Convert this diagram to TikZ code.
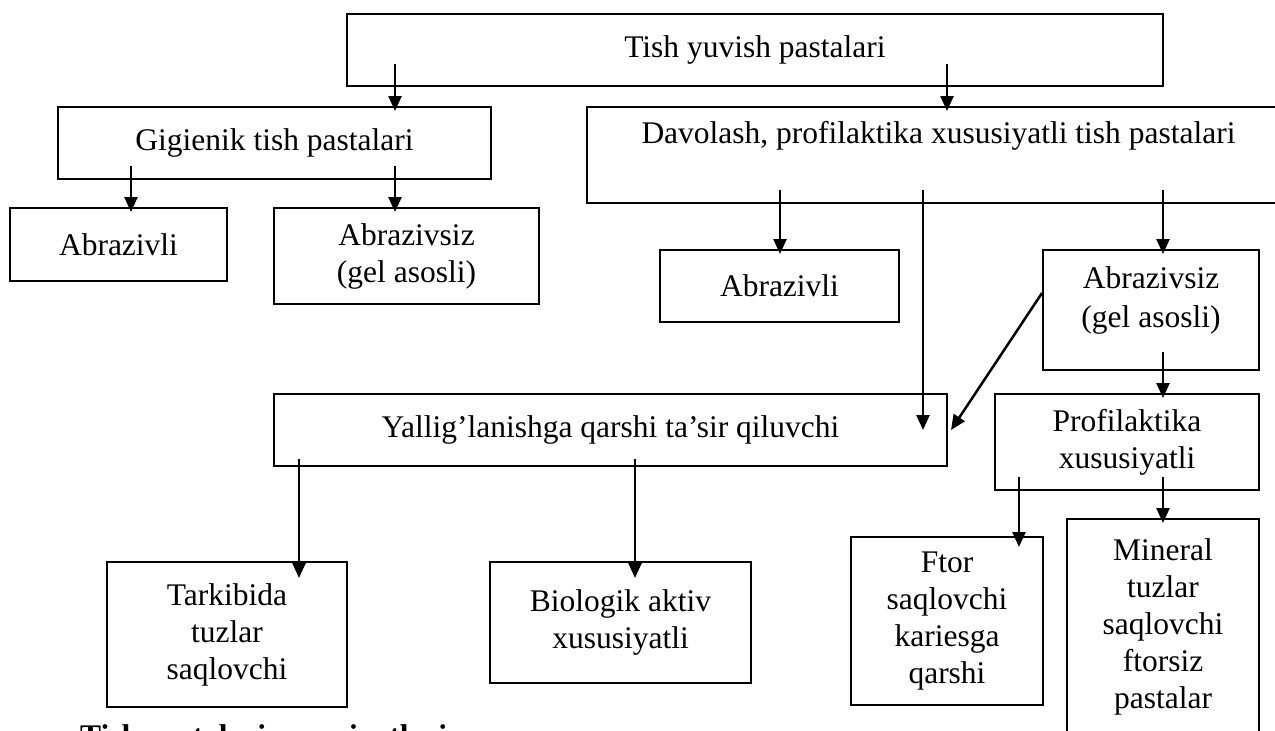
\documentclass[tikz,border=0pt]{standalone}
\usepackage{fontspec}
\setmainfont{Liberation Serif}
\usetikzlibrary{arrows.meta, positioning, calc}
\tikzset{
	box/.style={draw, line width=2pt, align=center, inner sep=0pt, font=\fontsize{31.5}{37}\selectfont},
	txt/.style={align=center, inner sep=0pt, font=\fontsize{31.5}{39}\selectfont},
	arr/.style={line width=2.5pt, -{Triangle[length=15pt,width=13pt]}, shorten >=-5pt}
}

\begin{document}
\begin{tikzpicture}[x=1pt, y=-1pt]
	\useasboundingbox (0,0) rectangle (1275,731);
	\clip (0,0) rectangle (1275,731);
	\node[box, minimum width=816pt, minimum height=72pt] (tish) at (755,50) {Tish yuvish pastalari};
	\node[box, minimum width=433pt, minimum height=72pt] (gigienik) at (274.5,143) {Gigienik tish pastalari};
	\node[box, minimum width=703pt, minimum height=96pt] (davolash) at (938.5,155) {};
	\node[txt] (davtext) at ([yshift=19pt]davolash.center) {Davolash, profilaktika xususiyatli tish pastalari};
	\node[box, minimum width=217pt, minimum height=73pt] (abr1) at (118.5,244.5) {Abrazivli};
	\node[box, minimum width=265pt, minimum height=96pt] (gel1) at (406.5,256) {Abrazivsiz\\(gel asosli)};
	\node[box, minimum width=239pt, minimum height=72pt] (abr2) at (779.5,286) {Abrazivli};
	\node[box, minimum width=216pt, minimum height=120pt] (gel2) at (1151,310) {};
	\node[txt] (gel2text) at ([yshift=10pt]gel2.center) {Abrazivsiz\\(gel asosli)};
	\node[box, minimum width=673pt, minimum height=72pt] (yallig) at (610.5,430) {Yallig’lanishga qarshi ta’sir qiluvchi};
	\node[box, minimum width=264pt, minimum height=96pt] (profil) at (1127,442) {Profilaktika\\xususiyatli};
	\node[box, minimum width=240pt, minimum height=145pt] (tarkib) at (227,634.5) {Tarkibida\\tuzlar\\saqlovchi};
	\node[box, minimum width=261pt, minimum height=121pt] (biolog) at (620.5,622.5) {Biologik aktiv\\xususiyatli};
	\node[box, minimum width=192pt, minimum height=168pt] (ftor) at (947,621) {Ftor\\saqlovchi\\kariesga\\qarshi};
	\node[box, minimum width=192pt, minimum height=215pt] (mineral) at (1163,626.5) {Mineral\\tuzlar\\saqlovchi\\ftorsiz\\pastalar};
	\node[font=\bfseries\fontsize{31.5}{37}\selectfont, inner sep=0pt, anchor=base west] (caption) at (80,746) {Tish pastalari xususiyatlari};
	\coordinate (p1) at (395,64);
	\coordinate (p2) at (947,64);
	\coordinate (p3) at (131,166);
	\coordinate (p4) at (395,166);
	\coordinate (p5) at (780,190);
	\coordinate (p6) at (923,190);
	\coordinate (p7) at (1163,190);
	\coordinate (p8) at (1163,352);
	\coordinate (p9) at (299,459);
	\coordinate (p10) at (635,459);
	\coordinate (p11) at (1019,477);
	\coordinate (p12) at (1163,477);
	\draw[arr] (p1) -- (p1 |- gigienik.north);
	\draw[arr] (p2) -- (p2 |- davolash.north);
	\draw[arr] (p3) -- (p3 |- abr1.north);
	\draw[arr] (p4) -- (p4 |- gel1.north);
	\draw[arr] (p5) -- (p5 |- abr2.north);
	\draw[arr, shorten >=0pt] (p6) -- (p6 |- yallig.center);
	\draw[arr] (p7) -- (p7 |- gel2.north);
	\draw[arr, shorten >=0pt] ([yshift=17pt]gel2.west) -- ([xshift=3pt]yallig.east);
	\draw[arr] (p8) -- (p8 |- profil.north);
	\draw[arr, shorten >=-17pt] (p9) -- (p9 |- tarkib.north);
	\draw[arr, shorten >=-17pt] (p10) -- (p10 |- biolog.north);
	\draw[arr, shorten >=-11pt] (p11) -- (p11 |- ftor.north);
	\draw[arr] (p12) -- (p12 |- mineral.north);
\end{tikzpicture}
\end{document}
